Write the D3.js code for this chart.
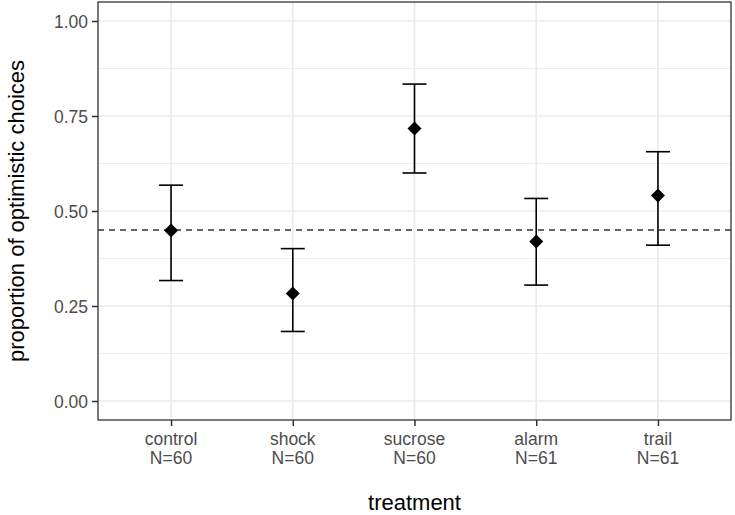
<!DOCTYPE html>
<html><head><meta charset="utf-8">
<script src="https://cdn.jsdelivr.net/npm/d3@7"></script>
<style>body{margin:0;background:#fff}svg{display:block}text{font-family:"Liberation Sans",Arial,Helvetica,sans-serif}</style>
</head><body><svg id="c" width="735" height="515"></svg>
<script>
const treatments = ["control","shock","sucrose","alarm","trail"];
const nLabels = ["N=60","N=60","N=60","N=61","N=61"];
const means = [0.449,0.283,0.717,0.420,0.541];
const lower = [0.317,0.183,0.600,0.305,0.410];
const upper = [0.568,0.401,0.834,0.533,0.656];
const refLine = 0.45;
const yTicks = [0,0.25,0.5,0.75,1];
const yMinor = [0.125,0.375,0.625,0.875];

const svg = d3.select("#c");
const L=98, R=731, T=2, B=420;
const x = d3.scalePoint().domain(treatments).range([L,R]).padding(0.6);
const y = d3.scaleLinear().domain([-0.05,1.05]).range([B,T]);

const g = svg.append("g");
g.append("rect").attr("x",L).attr("y",T).attr("width",R-L).attr("height",B-T).attr("fill","#fff");
// minor grid
g.selectAll(".ymin").data(yMinor).join("line").attr("x1",L).attr("x2",R)
 .attr("y1",d=>y(d)).attr("y2",d=>y(d)).attr("stroke","#EBEBEB").attr("stroke-width",0.9);
// major grid
g.selectAll(".ymaj").data(yTicks).join("line").attr("x1",L).attr("x2",R)
 .attr("y1",d=>y(d)).attr("y2",d=>y(d)).attr("stroke","#EBEBEB").attr("stroke-width",1.7);
g.selectAll(".xmaj").data(treatments).join("line").attr("y1",T).attr("y2",B)
 .attr("x1",d=>x(d)).attr("x2",d=>x(d)).attr("stroke","#EBEBEB").attr("stroke-width",1.7);

// reference dashed line
g.append("line").attr("x1",L).attr("x2",R).attr("y1",y(refLine)).attr("y2",y(refLine))
 .attr("stroke","#333").attr("stroke-width",1.5).attr("stroke-dasharray","6,5");

// error bars
const data = treatments.map((t,i)=>({t,m:means[i],lo:lower[i],hi:upper[i]}));
const cw=12;
const eb = g.selectAll(".eb").data(data).join("g");
eb.append("line").attr("x1",d=>x(d.t)).attr("x2",d=>x(d.t)).attr("y1",d=>y(d.lo)).attr("y2",d=>y(d.hi))
 .attr("stroke","#000").attr("stroke-width",1.6);
eb.append("line").attr("x1",d=>x(d.t)-cw).attr("x2",d=>x(d.t)+cw).attr("y1",d=>y(d.hi)).attr("y2",d=>y(d.hi))
 .attr("stroke","#000").attr("stroke-width",1.6);
eb.append("line").attr("x1",d=>x(d.t)-cw).attr("x2",d=>x(d.t)+cw).attr("y1",d=>y(d.lo)).attr("y2",d=>y(d.lo))
 .attr("stroke","#000").attr("stroke-width",1.6);
// diamonds
const s=7;
eb.append("path").attr("d",d=>{const cx=x(d.t),cy=y(d.m);return `M${cx},${cy-s}L${cx+s},${cy}L${cx},${cy+s}L${cx-s},${cy}Z`;})
 .attr("fill","#000");

// panel border
g.append("rect").attr("x",L).attr("y",T).attr("width",R-L).attr("height",B-T).attr("fill","none").attr("stroke","#333").attr("stroke-width",1.3);

// y axis
const ya = svg.append("g").attr("transform",`translate(${L},0)`)
 .call(d3.axisLeft(y).tickValues(yTicks).tickFormat(d3.format(".2f")).tickSize(6).tickPadding(4));
ya.select(".domain").remove();
ya.selectAll("line").attr("stroke","#333").attr("stroke-width",1.5);
ya.selectAll("text").attr("fill","#4D4D4D").style("font-size","17.5px").attr("dy","0.35em");

// x axis
const xa = svg.append("g").attr("transform",`translate(0,${B})`)
 .call(d3.axisBottom(x).tickSize(6).tickFormat(""));
xa.select(".domain").remove();
xa.selectAll("line").attr("stroke","#333").attr("stroke-width",1.5);
const lab = svg.append("g").selectAll("text").data(treatments).join("text")
 .attr("x",d=>x(d)).attr("y",445).attr("text-anchor","middle").attr("fill","#4D4D4D").style("font-size","17.5px");
lab.append("tspan").attr("x",d=>x(d)).text(d=>d);
lab.append("tspan").attr("x",d=>x(d)).attr("dy",19).text((d,i)=>nLabels[i]);

// titles
svg.append("text").attr("x",(L+R)/2).attr("y",510).attr("text-anchor","middle").attr("fill","#000").style("font-size","22px").text("treatment");
svg.append("text").attr("transform",`translate(24,${(T+B)/2}) rotate(-90)`).attr("text-anchor","middle").attr("fill","#000").style("font-size","22px").text("proportion of optimistic choices");
</script></body></html>
